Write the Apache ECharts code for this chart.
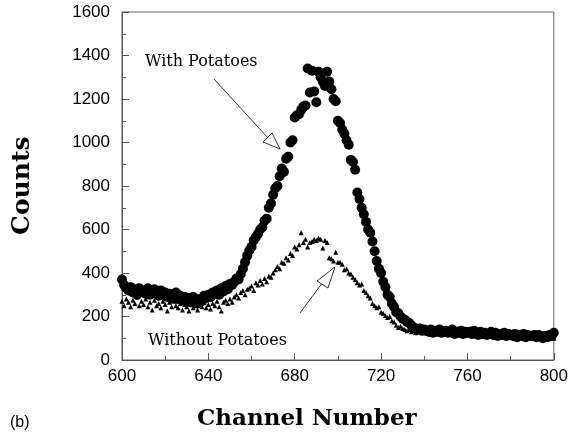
<!DOCTYPE html>
<html>
<head>
<meta charset="utf-8">
<script src="https://cdn.jsdelivr.net/npm/echarts@6/dist/echarts.min.js"></script>
<style>
  html, body { margin: 0; padding: 0; background: #fff; }
  #container { width: 571px; height: 438px; }
</style>
</head>
<body>
<div id="container"></div>
<script>
// channels 600..800, one count per channel
var channelStart = 600;
var withPotatoes = [
  370, 345, 330, 320, 335, 310, 325, 300, 330, 315,
  320, 305, 330, 300, 315, 325, 310, 295, 320, 300,
  310, 290, 305, 285, 300, 310, 280, 295, 275, 290,
  270, 285, 265, 290, 275, 260, 280, 270, 295, 285,
  300, 290, 310, 305, 320, 300, 330, 315, 340, 325,
  350, 345, 360, 375, 370, 395, 420, 450, 480, 505,
  520, 550, 565, 580, 600, 610, 640, 650, 700, 720,
  760, 790, 800, 845, 880, 865, 925, 935, 1000, 1010,
  1115, 1125, 1130, 1150, 1165, 1170, 1340, 1230, 1330, 1235,
  1185, 1325, 1300, 1280, 1260, 1325, 1280, 1245, 1200, 1190,
  1100, 1090, 1060, 1040, 1010, 990, 920, 910, 875, 770,
  740, 700, 670, 635, 600, 585, 545, 500, 455, 420,
  400, 360, 335, 300, 290, 260, 245, 220, 215, 200,
  190, 185, 175, 170, 160, 150, 145, 140, 145, 135,
  140, 135, 130, 140, 125, 135, 130, 140, 125, 130,
  135, 125, 130, 140, 120, 130, 125, 135, 120, 130,
  125, 130, 120, 135, 125, 115, 130, 120, 125, 115,
  120, 130, 115, 125, 110, 120, 115, 125, 110, 120,
  115, 110, 120, 105, 115, 110, 120, 105, 115, 110,
  110, 115, 105, 115, 110, 100, 110, 105, 115, 110,
  125
];
var withoutPotatoes = [
  270, 250, 280, 265, 245, 275, 260, 290, 250, 270,
  255, 280, 245, 265, 230, 275, 250, 260, 240, 270,
  255, 225, 265, 245, 270, 250, 240, 260, 230, 255,
  245, 225, 260, 240, 250, 230, 255, 245, 265, 240,
  255, 235, 260, 250, 270, 245, 225, 265, 275, 260,
  280, 265, 290, 300, 285, 310, 320, 300, 325, 330,
  340, 320, 355, 345, 365, 350, 375, 360, 385, 380,
  400, 415, 430, 420, 450, 445, 470, 460, 490, 480,
  520, 510, 530, 585, 540, 555, 520, 540, 545, 555,
  550, 560, 555, 515, 550, 540, 470, 465, 455, 495,
  450, 450, 440, 415, 420, 400, 395, 380, 370, 355,
  345, 350, 320, 310, 295, 285, 260, 250, 240, 245,
  220, 215, 205, 195, 200, 180, 175, 160, 150, 155,
  145, 140, 135, 140, 130, 135, 125, 130, 135, 125,
  130, 125, 135, 120, 130, 125, 135, 120, 125, 130,
  120, 130, 125, 115, 130, 120, 125, 115, 125, 120,
  115, 125, 120, 110, 125, 115, 120, 110, 120, 115,
  110, 120, 115, 105, 115, 110, 120, 105, 110, 115,
  105, 110, 115, 100, 110, 105, 110, 100, 110, 105,
  100, 110, 105, 100, 110, 100, 105, 100, 110, 105,
  100
];
var xTicks = [600, 640, 680, 720, 760, 800];
var yTicks = [0, 200, 400, 600, 800, 1000, 1200, 1400, 1600];

function toPairs(arr) {
  return arr.map(function (v, i) { return [channelStart + i, v]; });
}

var dom = document.getElementById('container');
var myChart = echarts.init(dom, null, { renderer: 'canvas' });

var axisGray = '#555';
var option = {
  animation: false,
  grid: { left: 122, right: 15, top: 12, bottom: 78, show: true, borderColor: '#666', borderWidth: 1 },
  xAxis: {
    type: 'value',
    min: xTicks[0], max: xTicks[xTicks.length - 1], interval: 40,
    axisLine: { lineStyle: { color: axisGray } },
    axisTick: { inside: true, length: 7, lineStyle: { color: axisGray } },
    minorTick: { show: true, splitNumber: 2, length: 4, lineStyle: { color: axisGray } },
    axisLabel: { fontFamily: 'Liberation Sans', fontSize: 17, color: '#000', margin: 8,
      formatter: function (v) { return String(v); } },
    splitLine: { show: false }
  },
  yAxis: {
    type: 'value',
    min: yTicks[0], max: yTicks[yTicks.length - 1], interval: 200,
    axisLine: { show: true, lineStyle: { color: axisGray } },
    axisTick: { show: true, inside: true, length: 7, lineStyle: { color: axisGray } },
    minorTick: { show: true, splitNumber: 2, length: 4, lineStyle: { color: axisGray } },
    axisLabel: { fontFamily: 'Liberation Sans', fontSize: 17, color: '#000', margin: 12,
      formatter: function (v) { return String(v); } },
    splitLine: { show: false }
  },
  graphic: [
    { type: 'text', left: 10, top: 415, style: { text: '(b)', font: '16px "Liberation Sans"', fill: '#000' } },
    { type: 'text', left: 197, top: 408, style: { text: 'Channel Number', font: 'bold 23px "DejaVu Serif"', fill: '#000' } },
    { type: 'text', x: 10, y: 235, rotation: Math.PI / 2,
      style: { text: 'Counts', font: 'bold 25px "DejaVu Serif"', fill: '#000' } },
    { type: 'text', left: 145, top: 54, style: { text: 'With Potatoes', font: '16px "DejaVu Serif"', fill: '#000' } },
    { type: 'text', left: 148, top: 333, style: { text: 'Without Potatoes', font: '16px "DejaVu Serif"', fill: '#000' } },
    // arrow to upper curve
    { type: 'line', shape: { x1: 214, y1: 79, x2: 268, y2: 138 }, style: { stroke: '#000', lineWidth: 0.8 } },
    { type: 'polygon', shape: { points: [[280, 149], [263, 142], [272, 133]] }, style: { fill: '#fff', stroke: '#000', lineWidth: 0.8 } },
    // arrow to lower curve
    { type: 'line', shape: { x1: 300, y1: 313, x2: 323, y2: 282 }, style: { stroke: '#000', lineWidth: 0.8 } },
    { type: 'polygon', shape: { points: [[335, 267], [317, 281], [328, 288]] }, style: { fill: '#fff', stroke: '#000', lineWidth: 0.8 } }
  ],
  series: [
    {
      name: 'With Potatoes', type: 'scatter', symbol: 'circle', symbolSize: 10,
      itemStyle: { color: '#000', opacity: 1 },
      data: toPairs(withPotatoes)
    },
    {
      name: 'Without Potatoes', type: 'scatter', symbol: 'triangle', symbolSize: 5,
      itemStyle: { color: '#000', opacity: 1 },
      data: toPairs(withoutPotatoes)
    }
  ]
};
myChart.setOption(option);
window.addEventListener('resize', function () { myChart.resize(); });
</script>
</body>
</html>
